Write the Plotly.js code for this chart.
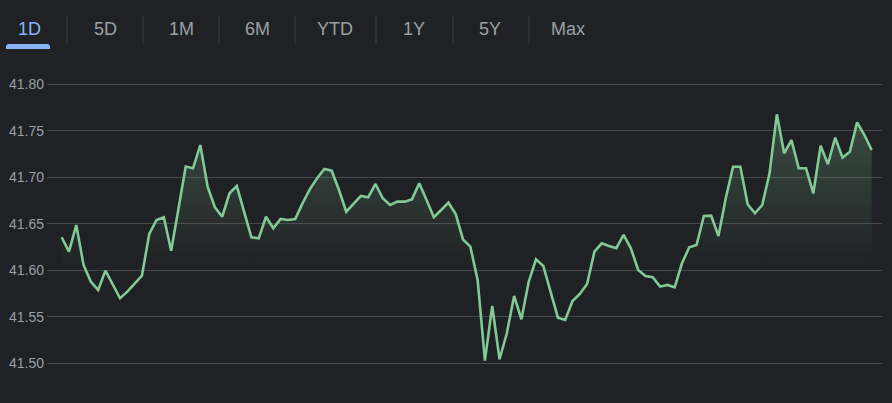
<!DOCTYPE html>
<html>
<head>
<meta charset="utf-8">
<script src="https://cdn.plot.ly/plotly-3.0.1.min.js"></script>
<style>
  html, body { margin: 0; padding: 0; background: #202124; }
  #chart { width: 892px; height: 403px; }
</style>
</head>
<body>
<div id="chart"></div>
<script>
// ---- data ----
const prices = [
  41.6355, 41.6200, 41.6487, 41.6057, 41.5877, 41.5788, 41.5996, 41.5842, 41.5699, 41.5770,
  41.5853, 41.5942, 41.6390, 41.6541, 41.6570, 41.6211, 41.6659, 41.7116, 41.7097, 41.7347,
  41.6899, 41.6677, 41.6576, 41.6828, 41.6906, 41.6630, 41.6355, 41.6344, 41.6576, 41.6452,
  41.6552, 41.6541, 41.6552, 41.6720, 41.6871, 41.6989, 41.7089, 41.7071, 41.6863, 41.6630,
  41.6720, 41.6799, 41.6785, 41.6928, 41.6774, 41.6702, 41.6738, 41.6738, 41.6763, 41.6935,
  41.6756, 41.6570, 41.6648, 41.6727, 41.6605, 41.6331, 41.6254, 41.5896, 41.5028, 41.5616,
  41.5043, 41.5323, 41.5724, 41.5473, 41.5877, 41.6118, 41.6046, 41.5770, 41.5490, 41.5466,
  41.5670, 41.5745, 41.5853, 41.6200, 41.6290, 41.6261, 41.6237, 41.6380, 41.6237, 41.6003,
  41.5939, 41.5925, 41.5824, 41.5842, 41.5817, 41.6075, 41.6247, 41.6272, 41.6584, 41.6587,
  41.6369, 41.6774, 41.7114, 41.7114, 41.6710, 41.6613, 41.6702, 41.7043, 41.7677, 41.7258,
  41.7401, 41.7097, 41.7097, 41.6828, 41.7340, 41.7140, 41.7426, 41.7211, 41.7275, 41.7591,
  41.7455, 41.7294
];
const yTickValues = [41.50, 41.55, 41.60, 41.65, 41.70, 41.75, 41.80];
const yTickLabels = ["41.50", "41.55", "41.60", "41.65", "41.70", "41.75", "41.80"];
const rangeTabs = ["1D", "5D", "1M", "6M", "YTD", "1Y", "5Y", "Max"];
const activeTab = "1D";

// ---- layout geometry ----
const W = 892, H = 403;
const M = { l: 47, r: 10, t: 70, b: 23 };
const PW = W - M.l - M.r, PH = H - M.t - M.b;
const px = x => (x - M.l) / PW;          // pixel x -> paper
const py = y => (H - M.b - y) / PH;      // pixel y -> paper

const xIdx = prices.map((_, i) => i);

const lineColor = '#81c995';
const trace = {
  x: xIdx,
  y: prices,
  type: 'scatter',
  mode: 'lines',
  line: { color: lineColor, width: 2.6, shape: 'linear' },
  fill: 'tozeroy',
  fillgradient: {
    type: 'vertical',
    start: 41.60,
    stop: 41.78,
    colorscale: [[0, 'rgba(129,201,149,0)'], [1, 'rgba(129,201,149,0.28)']]
  },
  hoverinfo: 'skip'
};

const tabCenters = [29, 105, 181, 257, 335, 414, 490, 568];
const sepX = [67, 143, 219, 295, 376, 453, 529];

const annotations = rangeTabs.map((t, i) => ({
  text: t,
  xref: 'paper', yref: 'paper',
  x: px(tabCenters[i]), y: py(29),
  xanchor: 'center', yanchor: 'middle',
  showarrow: false,
  font: { family: 'Arial, "Liberation Sans", sans-serif', size: 18,
          color: t === activeTab ? '#8ab4f8' : '#9aa0a6' }
}));

const shapes = sepX.map(x => ({
  type: 'line', xref: 'paper', yref: 'paper',
  x0: px(x), x1: px(x), y0: py(16), y1: py(44),
  line: { color: '#3c4043', width: 1 }
}));

// underline for active tab, rounded top corners
(function () {
  const x0 = 6, x1 = 50, y0 = 44, y1 = 49, r = 3;
  const P = (x, y) => px(x) + ',' + py(y);
  shapes.push({
    type: 'path', xref: 'paper', yref: 'paper',
    path: 'M' + P(x0, y1) + ' L' + P(x0, y0 + r) + ' Q' + P(x0, y0) + ' ' + P(x0 + r, y0) +
          ' L' + P(x1 - r, y0) + ' Q' + P(x1, y0) + ' ' + P(x1, y0 + r) + ' L' + P(x1, y1) + ' Z',
    fillcolor: '#8ab4f8', line: { width: 0 }
  });
})();

const layout = {
  width: W, height: H,
  margin: M,
  paper_bgcolor: '#202124',
  plot_bgcolor: '#202124',
  showlegend: false,
  xaxis: {
    range: [-2.01, 112.41],
    showgrid: false, zeroline: false, showticklabels: false, showline: false, ticks: ''
  },
  yaxis: {
    range: [41.482, 41.8154],
    tickvals: yTickValues,
    ticktext: yTickLabels,
    showgrid: true, gridcolor: '#46484b', gridwidth: 1,
    zeroline: false, showline: false, ticks: '',
    ticklabelstandoff: 2,
    tickfont: { family: 'Arial, "Liberation Sans", sans-serif', size: 14, color: '#9aa0a6' }
  },
  annotations: annotations,
  shapes: shapes,
  hovermode: false
};

Plotly.newPlot('chart', [trace], layout, { displayModeBar: false, staticPlot: true });
</script>
</body>
</html>
